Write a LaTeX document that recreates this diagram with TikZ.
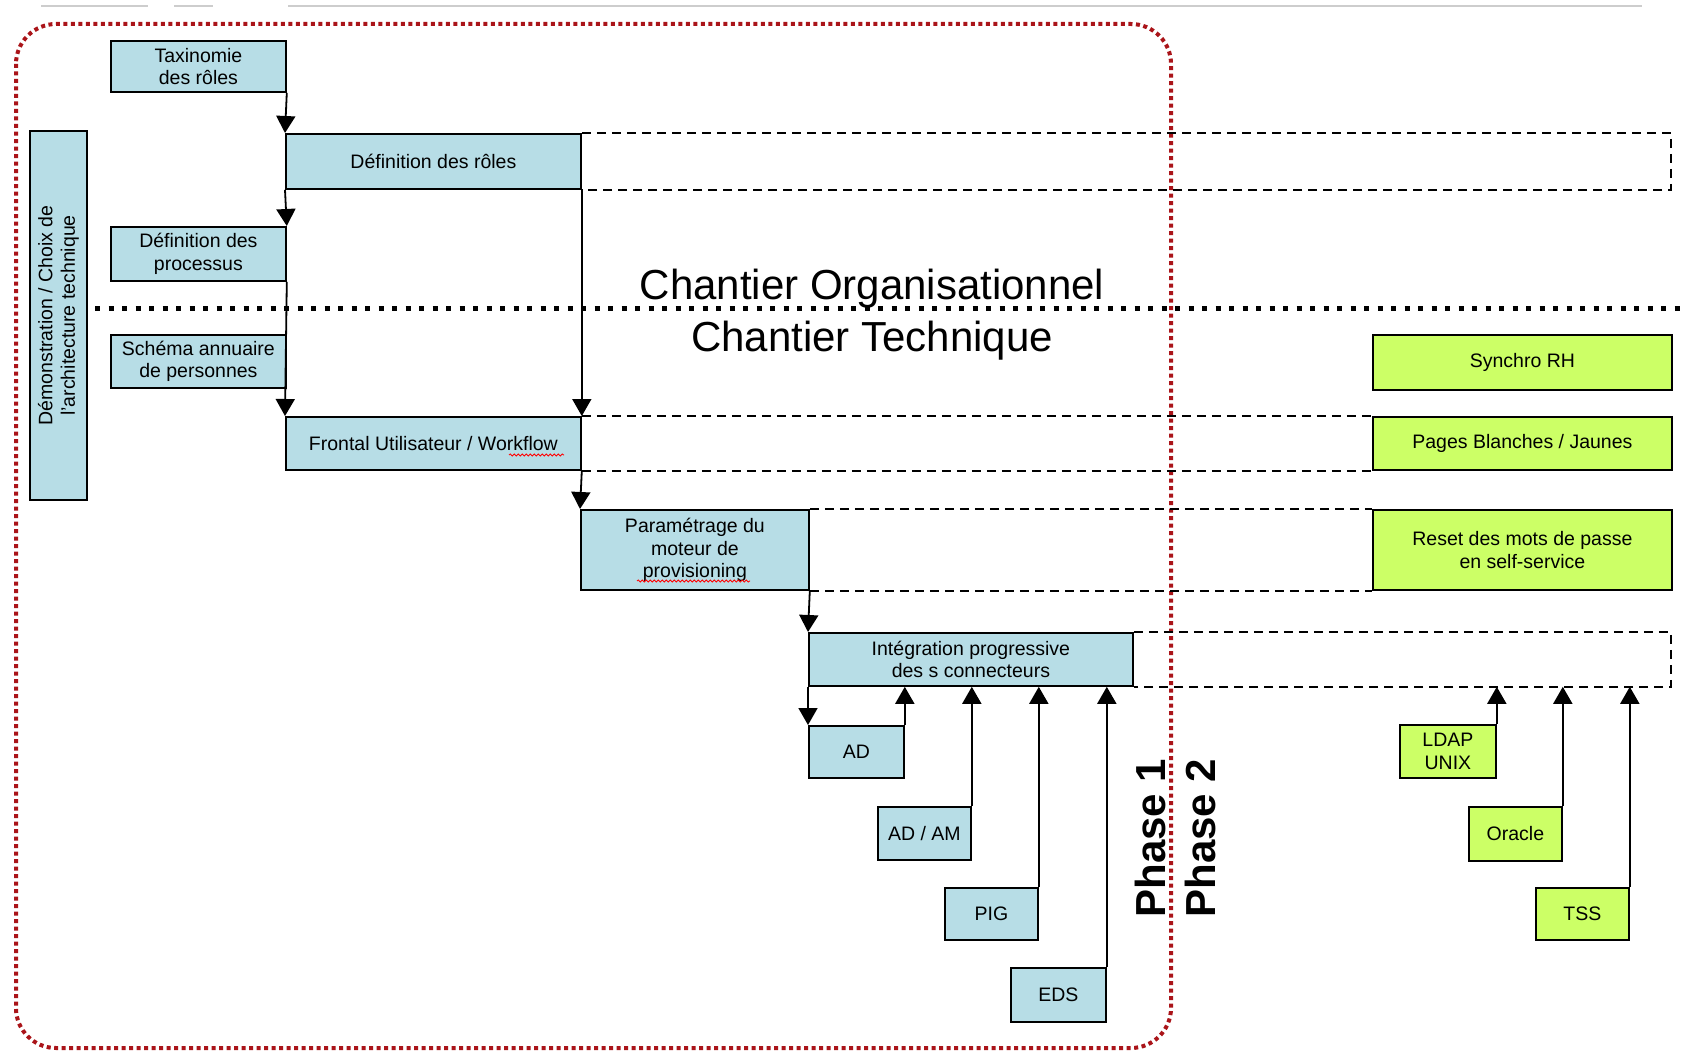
\documentclass[tikz,border=0pt]{standalone}
\usepackage{fontspec}
\setmainfont{Liberation Sans}
\usetikzlibrary{arrows.meta,decorations.pathmorphing}
\definecolor{myblue}{RGB}{183,221,230}
\definecolor{mygreen}{RGB}{204,255,102}
\definecolor{myred}{RGB}{170,20,25}
\definecolor{mygray}{RGB}{205,205,205}

\tikzset{
    stage/.style={draw=black, line width=1.8pt, fill=myblue, anchor=north west,
        align=center, inner sep=0pt, font=\fontsize{19.5}{22.5}\selectfont},
    later/.style={stage, fill=mygreen},
    flow/.style={line width=1.8pt, -{Triangle[width=19pt,length=17pt]}},
    ghost/.style={line width=1.4pt, dash pattern=on 9pt off 6pt},
    spell/.style={red, line width=0.8pt, decorate,
        decoration={snake, amplitude=1.1pt, segment length=4pt}},
}

\begin{document}
\begin{tikzpicture}[x=1pt, y=-1pt]
    \useasboundingbox (0,0) rectangle (1685,1062);
    % scan marks at the top
    \draw[mygray, line width=2.5pt] (41,6) -- (148,6);
    \draw[mygray, line width=2.5pt] (174,6) -- (213,6);
    \draw[mygray, line width=2.5pt] (288,6) -- (1642,6);

    % Phase 1 frame
    \draw[myred, line width=4pt, dash pattern=on 4pt off 3.5pt, rounded corners=40pt]
        (16,24) rectangle (1171,1048);

    % separation organisationnel / technique
    \draw[line width=5pt, dash pattern=on 5pt off 8.5pt] (95,308) -- (1685,308);
    \node[font=\fontsize{42}{42}\selectfont, anchor=base] (Orga) at (872,299)
        {Chantier Organisationnel};
    \node[font=\fontsize{42}{42}\selectfont, anchor=base] (Tech) at (872,351)
        {Chantier Technique};

    % Phase 1 blocks
    \node[stage, minimum width=369pt, minimum height=57pt, anchor=center, rotate=90]
        (Demo) at (58.5,315.5) {Démonstration / Choix de\\l'architecture technique};
    \node[stage, minimum width=175pt, minimum height=51pt] (Taxonomy) at (110,40)
        {Taxinomie\\des rôles};
    \node[stage, minimum width=295pt, minimum height=55pt] (DefRoles) at (285,133)
        {Définition des rôles};
    \node[stage, minimum width=175pt, minimum height=54pt] (Process) at (110,226)
        {Définition des\\processus};
    \node[stage, minimum width=175pt, minimum height=53pt] (Schema) at (110,334)
        {Schéma annuaire\\de personnes};
    \node[stage, minimum width=295pt, minimum height=53pt] (Frontal) at (285,416)
        {Frontal Utilisateur / Workflow};
    \node[stage, minimum width=228pt, minimum height=80pt] (Engine) at (580,509)
        {Paramétrage du\\moteur de\\provisioning};
    \node[stage, minimum width=324pt, minimum height=53pt] (Connect) at (808,632)
        {Intégration progressive\\des s connecteurs};
    \node[stage, minimum width=95pt, minimum height=52pt] (AD) at (808,725) {AD};
    \node[stage, minimum width=93pt, minimum height=53pt] (ADAM) at (877,806) {AD / AM};
    \node[stage, minimum width=93pt, minimum height=52pt] (PIG) at (944,887) {PIG};
    \node[stage, minimum width=95pt, minimum height=54pt] (EDS) at (1010,967) {EDS};

    % Phase 2 blocks
    \node[later, minimum width=299pt, minimum height=55pt] (SynchroRH) at (1372,334)
        {Synchro RH};
    \node[later, minimum width=299pt, minimum height=53pt] (Pages) at (1372,416)
        {Pages Blanches / Jaunes};
    \node[later, minimum width=299pt, minimum height=80pt] (Reset) at (1372,509)
        {Reset des mots de passe\\en self-service};
    \node[later, minimum width=96pt, minimum height=53pt] (LDAP) at (1399,724)
        {LDAP\\UNIX};
    \node[later, minimum width=93pt, minimum height=54pt] (Oracle) at (1468,806) {Oracle};
    \node[later, minimum width=93pt, minimum height=52pt] (TSS) at (1535,887) {TSS};

    % spell-check marks
    \draw[spell] (509,455) -- (564,455);
    \draw[spell] (637,581) -- (750,581);

    % phase labels
    \node[rotate=90, font=\bfseries\fontsize{42}{42}\selectfont] (PhaseOne) at (1150,838)
        {Phase 1};
    \node[rotate=90, font=\bfseries\fontsize{42}{42}\selectfont] (PhaseTwo) at (1200,838)
        {Phase 2};

    % planned extensions
    \coordinate (RolesEnd) at (1671,133);
    \coordinate (ConnectEnd) at (1671,632);
    \draw[ghost] (DefRoles.north east) -- (RolesEnd)
        -- (RolesEnd |- DefRoles.south) -- (DefRoles.south east);
    \draw[ghost] (Frontal.north east) -- (Pages.north west);
    \draw[ghost] (Frontal.south east) -- (Pages.south west);
    \draw[ghost] (Engine.north east) -- (Reset.north west);
    \draw[ghost] (Engine.south east) -- (Reset.south west);
    \draw[ghost] (Connect.north east) -- (ConnectEnd)
        -- (ConnectEnd |- Connect.south) -- (Connect.south east);

    % sequencing
    \draw[flow] (Taxonomy.south east) -- (DefRoles.north west);
    \draw[flow] (DefRoles.south west) -- (Process.north east);
    \draw[flow] (Process.south east) -- (Frontal.north west);
    \draw[flow] (DefRoles.south east) -- (Frontal.north east);
    \draw[flow] (Frontal.south east) -- (Engine.north west);
    \draw[flow] (Engine.south east) -- (Connect.north west);
    \draw[flow] (Connect.south west) -- (AD.north west);
    \draw[flow] (AD.north east) -- (AD.north east |- Connect.south);
    \draw[flow] (ADAM.north east) -- (ADAM.north east |- Connect.south);
    \draw[flow] (PIG.north east) -- (PIG.north east |- Connect.south);
    \draw[flow] (EDS.north east) -- (EDS.north east |- Connect.south);
    \draw[flow] (LDAP.north east) -- (LDAP.north east |- Connect.south);
    \draw[flow] (Oracle.north east) -- (Oracle.north east |- Connect.south);
    \draw[flow] (TSS.north east) -- (TSS.north east |- Connect.south);
\end{tikzpicture}
\end{document}
